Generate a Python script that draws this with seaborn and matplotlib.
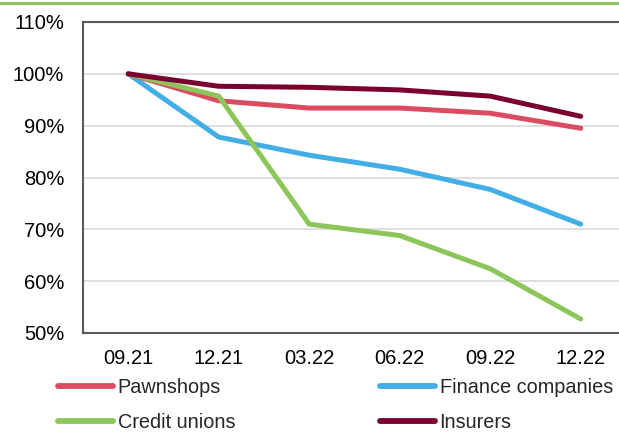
import matplotlib
matplotlib.use("Agg")
import matplotlib.pyplot as plt
import seaborn as sns
import pandas as pd
import numpy as np
from matplotlib.ticker import FixedLocator, PercentFormatter
from matplotlib.lines import Line2D

periods = ["09.21", "12.21", "03.22", "06.22", "09.22", "12.22"]
pawnshops = [100, 94.8, 93.4, 93.4, 92.4, 89.5]
finance_companies = [100, 87.8, 84.3, 81.6, 77.7, 71.0]
credit_unions = [100, 95.7, 71.0, 68.8, 62.4, 52.7]
insurers = [100, 97.6, 97.4, 96.9, 95.7, 91.8]

series_names = ["Pawnshops", "Finance companies", "Credit unions", "Insurers"]
colors = ["#DC4C60", "#42AEE6", "#8CC65A", "#7A0030"]

sns.set_style("white")
plt.rcParams["font.family"] = ["Liberation Sans", "DejaVu Sans"]

df = pd.DataFrame({
    "period": periods * 4,
    "x": list(range(len(periods))) * 4,
    "value": pawnshops + finance_companies + credit_unions + insurers,
    "series": sum([[n] * len(periods) for n in series_names], []),
})

fig = plt.figure(figsize=(6.19, 4.32), dpi=100)
ax = fig.add_axes([83 / 619, 1 - 333 / 432, (626 - 83) / 619, (333 - 22) / 432])

order_draw = ["Finance companies", "Pawnshops", "Credit unions", "Insurers"]
pal = dict(zip(series_names, colors))
for name in order_draw:
    sub = df[df["series"] == name]
    sns.lineplot(data=sub, x="x", y="value", color=pal[name], lw=3.6,
                 ax=ax, legend=False, solid_capstyle="round", solid_joinstyle="round")

ax.set_ylim(50, 110)
ax.set_xlim(-0.5, len(periods) - 0.5)
ax.set_yticks(np.arange(50, 111, 10))
ax.yaxis.set_major_formatter(PercentFormatter(decimals=0))
ax.set_xticks(range(len(periods)))
ax.set_xticklabels(periods)
ax.xaxis.set_minor_locator(FixedLocator(np.arange(-0.5, len(periods), 1.0)))
ax.tick_params(axis="x", which="major", length=0, pad=11.5, labelsize=14.5, labelcolor="black")
ax.tick_params(axis="x", which="minor", length=5, width=1.5, color="#595959", direction="in")
ax.tick_params(axis="y", length=3.5, width=1.5, color="#595959", direction="out",
               labelsize=14.5, pad=10, labelcolor="black")
ax.set_xlabel("")
ax.set_ylabel("")
ax.grid(axis="y", color="#D9D9D9", lw=1.2)
ax.set_axisbelow(True)
for s in ["left", "bottom", "top", "right"]:
    ax.spines[s].set_color("#595959")
    ax.spines[s].set_linewidth(1.5)

col1 = [0, 2]
col2 = [1, 3]
for cols, x0 in [(col1, 58 / 619), (col2, 380 / 619)]:
    handles = [Line2D([0], [0], color=colors[i], lw=4.2, solid_capstyle="round") for i in cols]
    labels = [series_names[i] for i in cols]
    leg = fig.legend(handles, labels, loc="center left", bbox_to_anchor=(x0, 1 - 405 / 432),
                     ncol=1, frameon=False, fontsize=14.3, handlelength=2.75, handletextpad=0.25,
                     labelspacing=0.8, borderaxespad=0, borderpad=0)

fig.add_artist(Line2D([0, 1], [1 - 3 / 432, 1 - 3 / 432], color="#8DC663", lw=2.2,
                      transform=fig.transFigure))

fig.savefig("out.png", dpi=100)
